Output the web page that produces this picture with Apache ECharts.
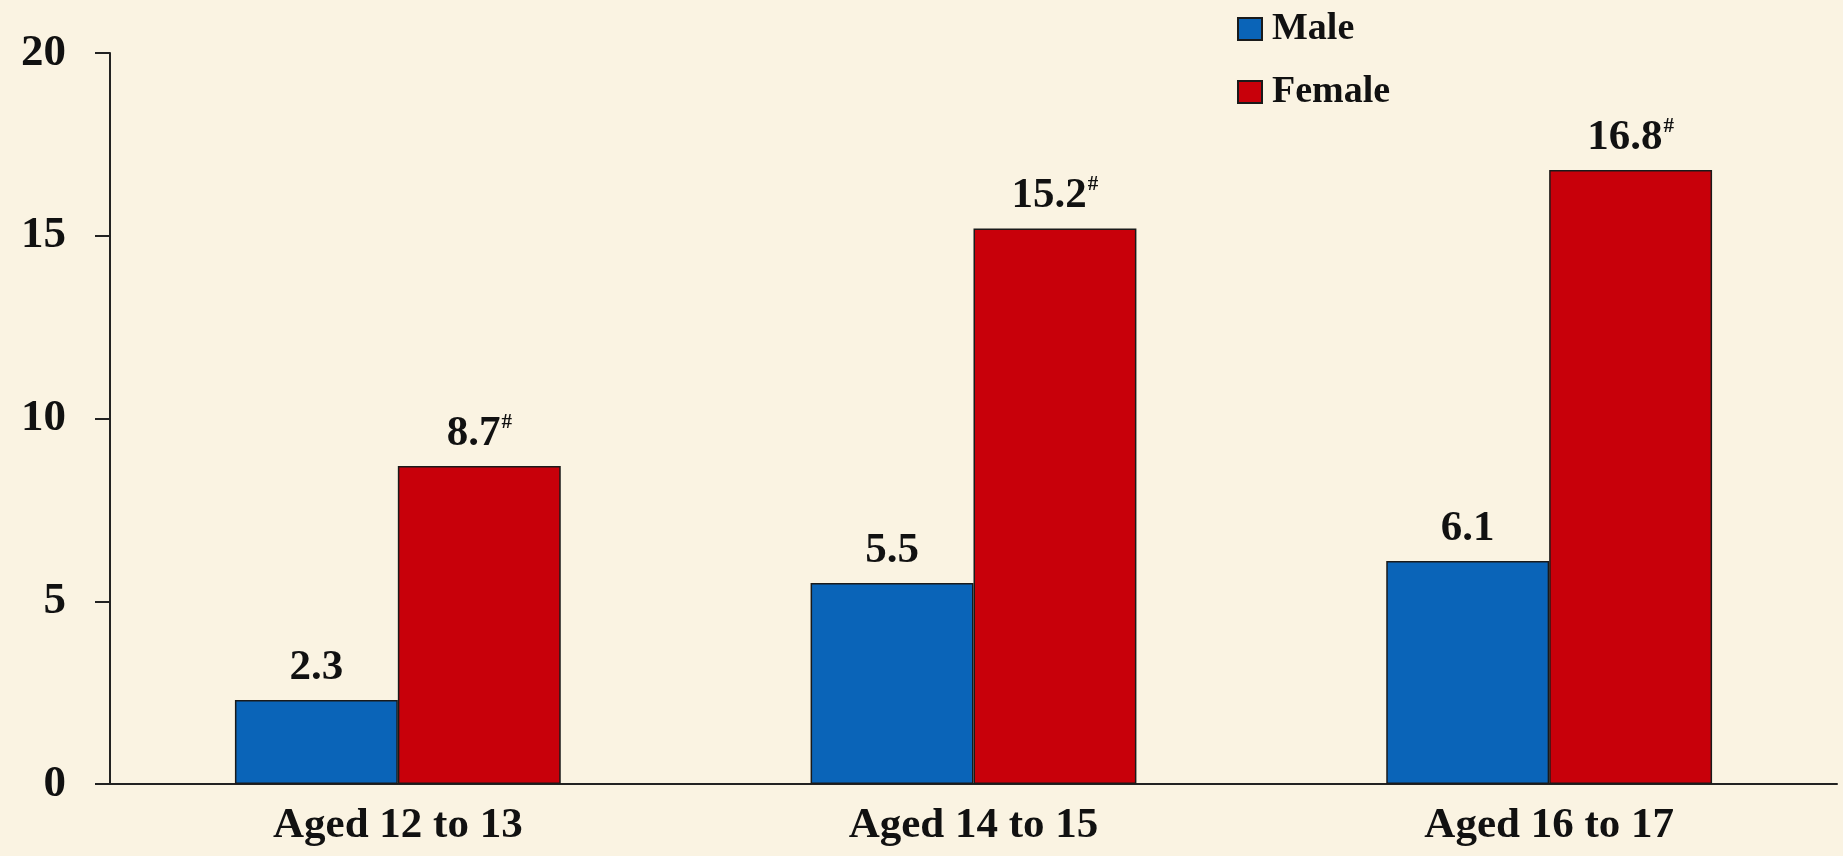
<!DOCTYPE html>
<html>
<head>
<meta charset="utf-8">
<script src="https://cdn.jsdelivr.net/npm/echarts@6/dist/echarts.min.js"></script>
<style>
  html, body { margin: 0; padding: 0; background: #faf3e2; }
  #chart { width: 1843px; height: 856px; }
</style>
</head>
<body>
<div id="chart"></div>
<script>
// data
var categories = ['Aged 12 to 13', 'Aged 14 to 15', 'Aged 16 to 17']
var maleValues = [2.3, 5.5, 6.1]
var femaleValues = [8.7, 15.2, 16.8]
var femaleMarked = [true, true, true] // '#' superscript after the value

var serif = '"Liberation Serif", "Times New Roman", serif'

var chart = echarts.init(document.getElementById('chart'))

chart.setOption({
  backgroundColor: '#faf3e2',
  textStyle: { fontFamily: serif },
  grid: {
    left: 110,
    right: 6,
    top: 53,
    bottom: 72,
    containLabel: false
  },
  legend: {
    orient: 'vertical',
    left: 1232,
    top: 5,
    itemWidth: 24,
    itemHeight: 22,
    itemGap: 25,
    icon: 'rect',
    textStyle: {
      fontFamily: serif,
      fontWeight: 'bold',
      fontSize: 38,
      color: '#111',
      padding: [0, 0, 0, 5]
    },
    data: ['Male', 'Female']
  },
  xAxis: {
    type: 'category',
    data: categories,
    axisLine: { lineStyle: { color: '#222', width: 2 } },
    axisTick: { show: false },
    axisLabel: {
      margin: 20,
      fontFamily: serif,
      fontWeight: 'bold',
      fontSize: 43,
      color: '#111'
    }
  },
  yAxis: {
    type: 'value',
    min: 0,
    max: 20,
    interval: 5,
    splitLine: { show: false },
    axisLine: { show: true, lineStyle: { color: '#222', width: 2 } },
    axisTick: { show: true, length: 15, lineStyle: { color: '#222', width: 2 } },
    axisLabel: {
      margin: 44,
      fontFamily: serif,
      fontWeight: 'bold',
      fontSize: 45,
      color: '#111'
    }
  },
  series: [
    {
      name: 'Male',
      type: 'bar',
      data: maleValues,
      barWidth: '28.3%',
      barGap: 0,
      itemStyle: { color: '#0a64b8', borderColor: '#1a1a1a', borderWidth: 1.5 },
      label: {
        show: true,
        position: 'top',
        distance: 11,
        fontFamily: serif,
        fontWeight: 'bold',
        fontSize: 43,
        color: '#111'
      }
    },
    {
      name: 'Female',
      type: 'bar',
      data: femaleValues,
      barWidth: '28.3%',
      barGap: 0,
      itemStyle: { color: '#c8000a', borderColor: '#1a1a1a', borderWidth: 1.5 },
      label: {
        show: true,
        position: 'top',
        distance: 11,
        fontFamily: serif,
        fontWeight: 'bold',
        fontSize: 43,
        color: '#111',
        formatter: function (p) {
          return femaleMarked[p.dataIndex] ? '{v|' + p.value + '}{s|#}' : '{v|' + p.value + '}'
        },
        rich: {
          v: { fontFamily: serif, fontWeight: 'bold', fontSize: 43, color: '#111' },
          s: { fontFamily: serif, fontSize: 21, color: '#111', verticalAlign: 'top', padding: [0, 0, 20, 1] }
        }
      }
    }
  ]
})
</script>
</body>
</html>
